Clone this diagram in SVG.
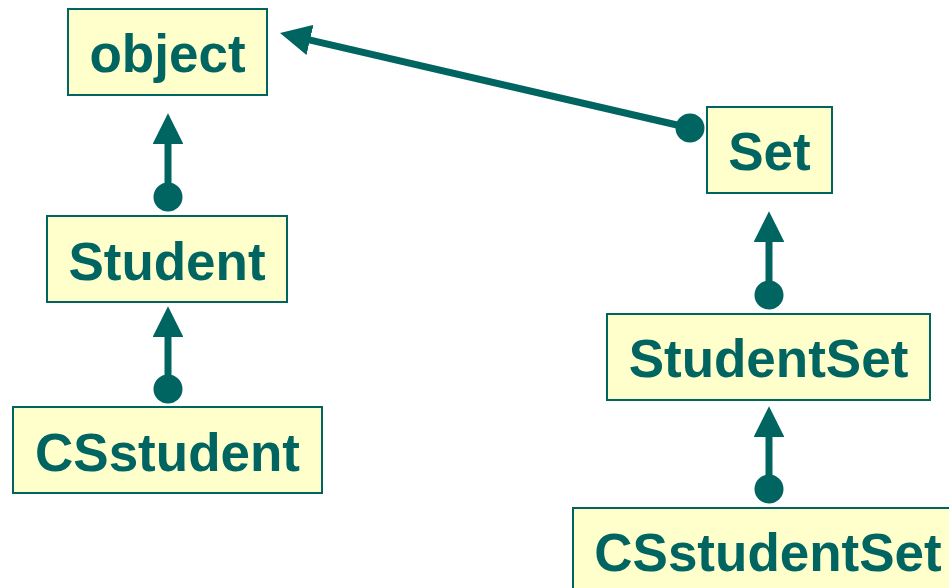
<svg xmlns="http://www.w3.org/2000/svg" width="949" height="588" viewBox="0 0 949 588">
  <defs>
    <style>
      .box rect { fill: #FFFFCC; stroke: #006461; stroke-width: 2; }
      .box text { font-family: "Liberation Sans", Arial, sans-serif; font-weight: bold; font-size: 53px; fill: #006461; text-anchor: middle; }
      .link { stroke: #006461; stroke-width: 7; fill: none; }
      .dot { fill: #006461; }
    </style>
    <!-- arrowhead: its base sits on the line end, the tip extends ~28px beyond -->
    <marker id="tip" viewBox="0 0 10 10" refX="1" refY="5" markerWidth="4.4" markerHeight="4.4" orient="auto" markerUnits="strokeWidth">
      <path d="M0,0 L10,5 L0,10 Z" fill="#006461"/>
    </marker>
  </defs>

  <rect width="949" height="588" fill="#FFFFFF"/>

  <!-- inheritance links: dot at the subclass, arrowhead at the superclass -->
  <g id="connectors">
    <line class="link" x1="690" y1="128" x2="307" y2="39.3" marker-end="url(#tip)"/>
    <circle class="dot" cx="690" cy="128" r="14.5"/>

    <line class="link" x1="168" y1="197" x2="168" y2="141" marker-end="url(#tip)"/>
    <circle class="dot" cx="168" cy="197" r="14.5"/>

    <line class="link" x1="168" y1="389" x2="168" y2="334" marker-end="url(#tip)"/>
    <circle class="dot" cx="168" cy="389" r="14.5"/>

    <line class="link" x1="769" y1="295" x2="769" y2="239" marker-end="url(#tip)"/>
    <circle class="dot" cx="769" cy="295" r="14.5"/>

    <line class="link" x1="769" y1="489" x2="769" y2="434" marker-end="url(#tip)"/>
    <circle class="dot" cx="769" cy="489" r="14.5"/>
  </g>

  <g id="object" class="box">
    <rect x="68" y="9" width="199" height="86"/>
    <text x="167.5" y="72">object</text>
  </g>
  <g id="Student" class="box">
    <rect x="47" y="216" width="240" height="86"/>
    <text x="167" y="280">Student</text>
  </g>
  <g id="CSstudent" class="box">
    <rect x="13" y="407" width="309" height="86"/>
    <text x="167.5" y="471">CSstudent</text>
  </g>
  <g id="Set" class="box">
    <rect x="707" y="107" width="125" height="86"/>
    <text x="769.5" y="170">Set</text>
  </g>
  <g id="StudentSet" class="box">
    <rect x="607" y="314" width="323" height="86"/>
    <text x="768.5" y="377">StudentSet</text>
  </g>
  <g id="CSstudentSet" class="box">
    <rect x="573" y="508" width="390" height="100"/>
    <text x="768" y="571">CSstudentSet</text>
  </g>
</svg>
